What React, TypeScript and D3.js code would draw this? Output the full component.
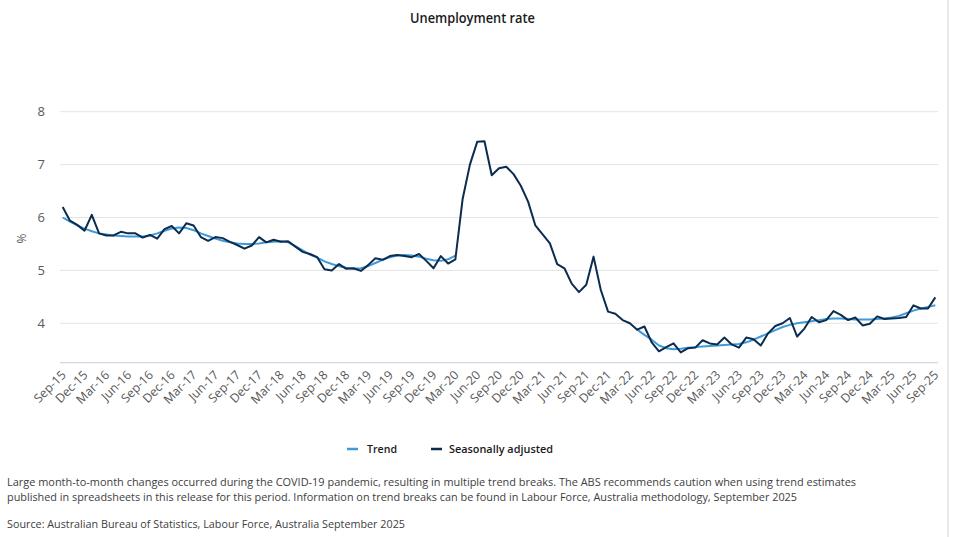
import React from "react";
import * as d3 from "d3";

// Monthly unemployment rate, Sep 2015 – Sep 2025 (121 months)
const startMonth = new Date(2015, 8, 1);
const months: Date[] = d3.timeMonth.range(startMonth, new Date(2025, 9, 1));

const seasonallyAdjusted: number[] = [
  6.2, 5.94, 5.86, 5.75, 6.05, 5.7, 5.66, 5.66, 5.73, 5.7, 5.7, 5.62,
  5.67, 5.6, 5.78, 5.84, 5.7, 5.89, 5.85, 5.63, 5.56, 5.63, 5.61, 5.54,
  5.48, 5.41, 5.47, 5.63, 5.53, 5.58, 5.54, 5.55, 5.45, 5.35, 5.31, 5.25,
  5.02, 5.0, 5.12, 5.03, 5.04, 4.99, 5.1, 5.23, 5.2, 5.27, 5.29, 5.27,
  5.25, 5.31, 5.18, 5.04, 5.27, 5.13, 5.21, 6.35, 7.0, 7.43, 7.44, 6.8,
  6.93, 6.96, 6.82, 6.6, 6.3, 5.85, 5.68, 5.51, 5.12, 5.04, 4.75, 4.59,
  4.73, 5.26, 4.63, 4.22, 4.18, 4.06, 4.0, 3.88, 3.94, 3.64, 3.47, 3.55,
  3.62, 3.45, 3.53, 3.54, 3.68, 3.62, 3.6, 3.73, 3.6, 3.54, 3.73, 3.7,
  3.58, 3.81, 3.95, 4.0, 4.1, 3.75, 3.9, 4.12, 4.02, 4.06, 4.23, 4.16,
  4.06, 4.11, 3.96, 3.99, 4.13, 4.08, 4.09, 4.1, 4.12, 4.34, 4.28, 4.28,
  4.49,
];

// Trend is suspended Apr 2020 – Mar 2022 (trend break)
const trend: (number | null)[] = [
  6.0, 5.92, 5.85, 5.79, 5.74, 5.7, 5.68, 5.66, 5.65, 5.64, 5.64, 5.64,
  5.66, 5.7, 5.75, 5.79, 5.81, 5.8, 5.76, 5.7, 5.65, 5.6, 5.56, 5.53,
  5.51, 5.5, 5.5, 5.51, 5.53, 5.54, 5.55, 5.53, 5.46, 5.38, 5.3, 5.24,
  5.17, 5.12, 5.08, 5.05, 5.03, 5.04, 5.08, 5.14, 5.2, 5.25, 5.28, 5.29,
  5.28, 5.26, 5.22, 5.19, 5.18, 5.21, 5.28, null, null, null, null, null,
  null, null, null, null, null, null, null, null, null, null, null, null,
  null, null, null, null, null, null, null, 3.88, 3.78, 3.69, 3.58, 3.53,
  3.51, 3.52, 3.54, 3.55, 3.56, 3.57, 3.58, 3.59, 3.6, 3.61, 3.64, 3.69,
  3.75, 3.81, 3.87, 3.93, 3.97, 4.0, 4.02, 4.04, 4.06, 4.08, 4.09, 4.09,
  4.08, 4.07, 4.07, 4.07, 4.08, 4.09, 4.11, 4.14, 4.19, 4.24, 4.28, 4.31,
  4.34,
];

const yTicks: number[] = [4, 5, 6, 7, 8];
const seriesNames: string[] = ["Trend", "Seasonally adjusted"];
const seriesColors: string[] = ["#3f9bd8", "#0b2c4f"];

const footnoteLines: string[] = [
  "Large month-to-month changes occurred during the COVID-19 pandemic, resulting in multiple trend breaks. The ABS recommends caution when using trend estimates",
  "published in spreadsheets in this release for this period. Information on trend breaks can be found in Labour Force, Australia methodology, September 2025",
];
const sourceText = "Source: Australian Bureau of Statistics, Labour Force, Australia September 2025";

const W = 980;
const H = 537;
const FONT = "'Open Sans', 'Noto Sans', sans-serif";
const fmt = d3.timeFormat("%b-%y");

export default function App() {
  const x = d3
    .scaleLinear()
    .domain([0, months.length - 1])
    .range([62.7, 935.3]);
  const y = d3.scaleLinear().domain([3.255, 8]).range([362.7, 111.7]);

  const line = d3
    .line<number | null>()
    .defined((d) => d !== null)
    .x((_, i) => x(i))
    .y((d) => y(d as number));

  const tickIdx = months.map((_, i) => i).filter((i) => i % 3 === 0);

  return (
    <svg
      width={W}
      height={H}
      viewBox={`0 0 ${W} ${H}`}
      style={{ position: "absolute", left: 0, top: 0, background: "#fff" }}
      fontFamily={FONT}
    >
      <rect width={W} height={H} fill="#fff" />
      <line x1={948} x2={948} y1={0} y2={H} stroke="#e3e3e3" strokeWidth={1.5} />

      <text x={472.5} y={23} textAnchor="middle" fontSize={13.5} fontWeight={600} fill="#1a1a1a" textLength={125} lengthAdjust="spacingAndGlyphs">
        Unemployment rate
      </text>

      {/* gridlines */}
      {yTicks.map((t) => (
        <g key={t}>
          <line x1={60} x2={938} y1={y(t)} y2={y(t)} stroke="#e4e4e4" strokeWidth={1} />
          <text x={45} y={y(t) + 4.5} textAnchor="end" fontSize={13} fill="#595959">
            {t}
          </text>
        </g>
      ))}
      <line x1={60} x2={938} y1={y(3.255)} y2={y(3.255)} stroke="#cfd8e3" strokeWidth={1.2} />

      <text
        transform={`translate(26,${y(5.6)}) rotate(-90)`}
        textAnchor="middle"
        fontSize={12}
        fill="#595959"
      >
        %
      </text>

      {/* x labels */}
      {tickIdx.map((i) => (
        <text
          key={i}
          transform={`translate(${x(i) + 4},${y(3.255) + 13}) rotate(-45)`}
          textAnchor="end"
          fontSize={12.3}
          fill="#595959"
        >
          {fmt(months[i])}
        </text>
      ))}

      <path d={line(trend) || ""} fill="none" stroke={seriesColors[0]} strokeWidth={2} strokeLinejoin="round" />
      <path
        d={line(seasonallyAdjusted) || ""}
        fill="none"
        stroke={seriesColors[1]}
        strokeWidth={2}
        strokeLinejoin="round"
      />

      {/* legend */}
      <g fontSize={11} fontWeight={600} fill="#1a1a1a">
        <line x1={347} x2={358} y1={449} y2={449} stroke={seriesColors[0]} strokeWidth={2.5} />
        <text x={367} y={453} textLength={30} lengthAdjust="spacingAndGlyphs">
          {seriesNames[0]}
        </text>
        <line x1={431} x2={442} y1={449} y2={449} stroke={seriesColors[1]} strokeWidth={2.5} />
        <text x={449} y={453} textLength={104} lengthAdjust="spacingAndGlyphs">
          {seriesNames[1]}
        </text>
      </g>

      <g fontSize={11} fill="#404040">
        <text x={7} y={486} textLength={849} lengthAdjust="spacingAndGlyphs">
          {footnoteLines[0]}
        </text>
        <text x={7} y={501} textLength={790} lengthAdjust="spacingAndGlyphs">
          {footnoteLines[1]}
        </text>
        <text x={7} y={528} textLength={398} lengthAdjust="spacingAndGlyphs">
          {sourceText}
        </text>
      </g>
    </svg>
  );
}
